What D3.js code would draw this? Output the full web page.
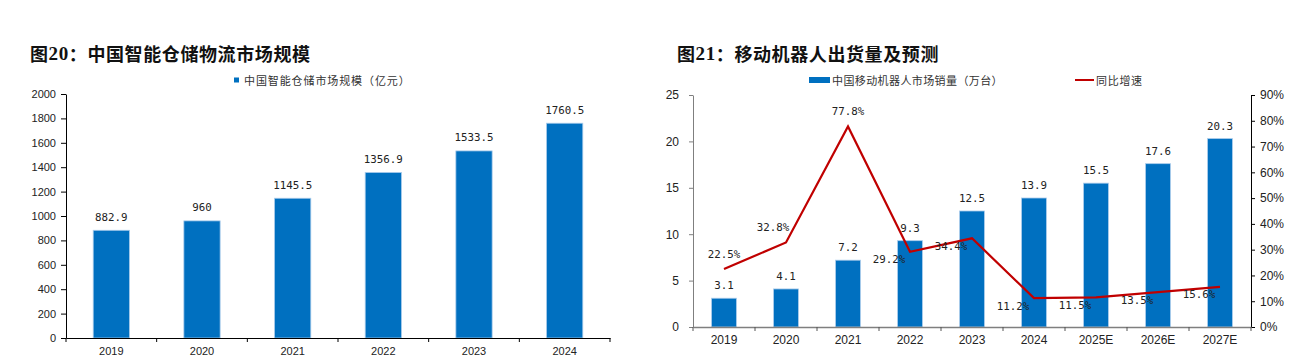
<!DOCTYPE html>
<html><head><meta charset="utf-8">
<script src="https://cdn.jsdelivr.net/npm/d3@7"></script>
<style>
html,body{margin:0;padding:0;background:#fff;}
svg{display:block;}
</style></head>
<body>
<svg id="c" width="1304" height="364"></svg>
<script>
// ---- data: chart 1 ----
const years1 = ["2019","2020","2021","2022","2023","2024"];
const marketSize = [882.9, 960, 1145.5, 1356.9, 1533.5, 1760.5];
const marketSizeLabels = ["882.9","960","1145.5","1356.9","1533.5","1760.5"];
const yTicks1 = [0,200,400,600,800,1000,1200,1400,1600,1800,2000];
const title1Num = "20";
const title1Text = "：中国智能仓储物流市场规模";
const legend1 = "中国智能仓储市场规模（亿元）";

// ---- data: chart 2 ----
const years2 = ["2019","2020","2021","2022","2023","2024","2025E","2026E","2027E"];
const robotSales = [3.1, 4.1, 7.2, 9.3, 12.5, 13.9, 15.5, 17.6, 20.3];
const growth = [0.225, 0.328, 0.778, 0.292, 0.344, 0.112, 0.115, 0.135, 0.156];
const growthLabelSide = ["above","aboveLeft","above","belowLeft","belowLeft","belowLeft","belowLeft","belowLeft","belowLeft"];
const yTicks2L = [0,5,10,15,20,25];
const yTicks2R = [0,0.1,0.2,0.3,0.4,0.5,0.6,0.7,0.8,0.9];
const title2Num = "21";
const title2Text = "：移动机器人出货量及预测";
const legend2Bar = "中国移动机器人市场销量（万台）";
const legend2Line = "同比增速";

const BLUE = "#0070C0", BAR_EDGE = "#A9CBEB", RED = "#C00000";
const CJK = "'Noto Sans CJK SC', sans-serif";
const SANS = "'Liberation Sans', Arial, sans-serif";
const NARROW = "'Liberation Sans Narrow', 'Liberation Sans', Arial, sans-serif";
const MONO = "'DejaVu Sans Mono', monospace";

const svg = d3.select("#c");

function title(x, num, text) {
  const t = svg.append("text").attr("x", x).attr("y", 53)
    .attr("dominant-baseline", "central")
    .attr("font-weight", "bold").attr("font-size", 18).attr("fill", "#111")
    .attr("letter-spacing", 0.6);
  t.append("tspan").attr("font-family", CJK).text("图");
  t.append("tspan").attr("font-family", "'Liberation Serif', serif").attr("font-size", 19).text(num);
  t.append("tspan").attr("font-family", CJK).text(text);
}

// ================= Chart 1 =================
{
  const x = d3.scaleBand().domain(years1).range([66, 610]).padding(0);
  const y = d3.scaleLinear().domain([0, 2000]).range([338, 94]);
  const g = svg.append("g");
  title(30, title1Num, title1Text);

  // legend
  g.append("rect").attr("x", 234).attr("y", 77.5).attr("width", 5).attr("height", 5).attr("fill", BLUE);
  g.append("text").attr("x", 244).attr("y", 80).attr("dominant-baseline", "central")
    .attr("font-family", CJK).attr("font-size", 11).attr("letter-spacing", 0.9).attr("fill", "#333").text(legend1);

  // bars
  const bw = x.bandwidth() * 0.4;
  g.selectAll(".b1").data(marketSize).join("rect")
    .attr("x", (d, i) => x(years1[i]) + (x.bandwidth() - bw) / 2)
    .attr("y", d => y(d)).attr("width", bw).attr("height", d => y(0) - y(d))
    .attr("fill", BLUE).attr("stroke", BAR_EDGE).attr("stroke-width", 0.8);
  g.selectAll(".l1").data(marketSize).join("text")
    .attr("x", (d, i) => x(years1[i]) + x.bandwidth() / 2)
    .attr("y", d => y(d) - 13).attr("text-anchor", "middle").attr("dominant-baseline", "central")
    .attr("font-family", MONO).attr("font-size", 10.8).attr("fill", "#222")
    .text((d, i) => marketSizeLabels[i]);

  // y axis
  const ya = g.append("g").attr("transform", "translate(66,0)")
    .call(d3.axisLeft(y).tickValues(yTicks1).tickFormat(d3.format("d")).tickSize(5).tickPadding(5).tickSizeOuter(0));
  ya.select(".domain").attr("stroke", "#000");
  ya.selectAll(".tick line").attr("stroke", "#000");
  ya.selectAll("text").attr("font-family", SANS).attr("font-size", 11).attr("fill", "#222");

  // x axis
  const xa = g.append("g").attr("transform", "translate(0,338)")
    .call(d3.axisBottom(x).tickSize(0).tickPadding(9));
  xa.select(".domain").attr("stroke", "#000");
  xa.selectAll("text").attr("font-family", SANS).attr("font-size", 11).attr("fill", "#222");
  const bounds1 = years1.map(c => x(c)).concat([x.range()[1]]);
  g.selectAll(".xt1").data(bounds1).join("line")
    .attr("x1", d => d).attr("x2", d => d).attr("y1", 338).attr("y2", 342)
    .attr("stroke", "#000");
}

// ================= Chart 2 =================
{
  const x = d3.scaleBand().domain(years2).range([693, 1251]).padding(0);
  const yL = d3.scaleLinear().domain([0, 25]).range([327, 95]);
  const yR = d3.scaleLinear().domain([0, 0.9]).range([327, 95]);
  const g = svg.append("g");
  title(677, title2Num, title2Text);

  // legend
  g.append("rect").attr("x", 809).attr("y", 77).attr("width", 21).attr("height", 6).attr("fill", BLUE);
  g.append("text").attr("x", 832).attr("y", 80).attr("dominant-baseline", "central")
    .attr("font-family", CJK).attr("font-size", 11).attr("letter-spacing", 0.4).attr("fill", "#333").text(legend2Bar);
  g.append("line").attr("x1", 1075).attr("x2", 1094).attr("y1", 80).attr("y2", 80).attr("stroke", RED).attr("stroke-width", 2);
  g.append("text").attr("x", 1096).attr("y", 80).attr("dominant-baseline", "central")
    .attr("font-family", CJK).attr("font-size", 11).attr("letter-spacing", 0.7).attr("fill", "#333").text(legend2Line);

  // bars
  const bw = x.bandwidth() * 0.4;
  g.selectAll(".b2").data(robotSales).join("rect")
    .attr("x", (d, i) => x(years2[i]) + (x.bandwidth() - bw) / 2)
    .attr("y", d => yL(d)).attr("width", bw).attr("height", d => yL(0) - yL(d))
    .attr("fill", BLUE).attr("stroke", BAR_EDGE).attr("stroke-width", 0.8);
  g.selectAll(".l2").data(robotSales).join("text")
    .attr("x", (d, i) => x(years2[i]) + x.bandwidth() / 2)
    .attr("y", d => yL(d) - 12.5).attr("text-anchor", "middle").attr("dominant-baseline", "central")
    .attr("font-family", MONO).attr("font-size", 10.8).attr("fill", "#222")
    .text(d => d.toFixed(1));

  // axes
  const ya = g.append("g").attr("transform", "translate(693,0)")
    .call(d3.axisLeft(yL).tickValues(yTicks2L).tickSize(4).tickPadding(10).tickSizeOuter(0));
  ya.select(".domain").attr("stroke", "#7f7f7f");
  ya.selectAll(".tick line").attr("stroke", "#7f7f7f");
  ya.selectAll("text").attr("font-family", NARROW).attr("font-size", 12).attr("fill", "#222");

  const yr = g.append("g").attr("transform", "translate(1251,0)")
    .call(d3.axisRight(yR).tickValues(yTicks2R).tickSize(4).tickPadding(5).tickSizeOuter(0).tickFormat(d3.format(".0%")));
  yr.select(".domain").attr("stroke", "#000");
  yr.selectAll(".tick line").attr("stroke", "#000");
  yr.selectAll("text").attr("font-family", NARROW).attr("font-size", 12).attr("fill", "#222");

  const xa = g.append("g").attr("transform", "translate(0,327)")
    .call(d3.axisBottom(x).tickSize(0).tickPadding(8));
  xa.select(".domain").attr("stroke", "#7f7f7f").attr("stroke-width", 1.5);
  xa.selectAll("text").attr("font-family", NARROW).attr("font-size", 12).attr("fill", "#222");
  const bounds2 = years2.map(c => x(c)).concat([x.range()[1]]);
  g.selectAll(".xt2").data(bounds2).join("line")
    .attr("x1", d => d).attr("x2", d => d).attr("y1", 327).attr("y2", 331)
    .attr("stroke", "#555");

  // line
  const cx = i => x(years2[i]) + x.bandwidth() / 2;
  const line = d3.line().x((d, i) => cx(i)).y(d => yR(d));
  g.append("path").datum(growth).attr("d", line)
    .attr("fill", "none").attr("stroke", RED).attr("stroke-width", 2.2).attr("stroke-linejoin", "miter");

  const off = { above: [0, -15], aboveLeft: [-13, -15], belowLeft: [-21, 8] };
  g.selectAll(".gl").data(growth).join("text")
    .attr("x", (d, i) => cx(i) + off[growthLabelSide[i]][0])
    .attr("y", (d, i) => yR(d) + off[growthLabelSide[i]][1])
    .attr("text-anchor", "middle").attr("dominant-baseline", "central")
    .attr("font-family", MONO).attr("font-size", 10.8).attr("fill", "#222")
    .text(d => (d * 100).toFixed(1) + "%");
}
</script>
</body></html>
